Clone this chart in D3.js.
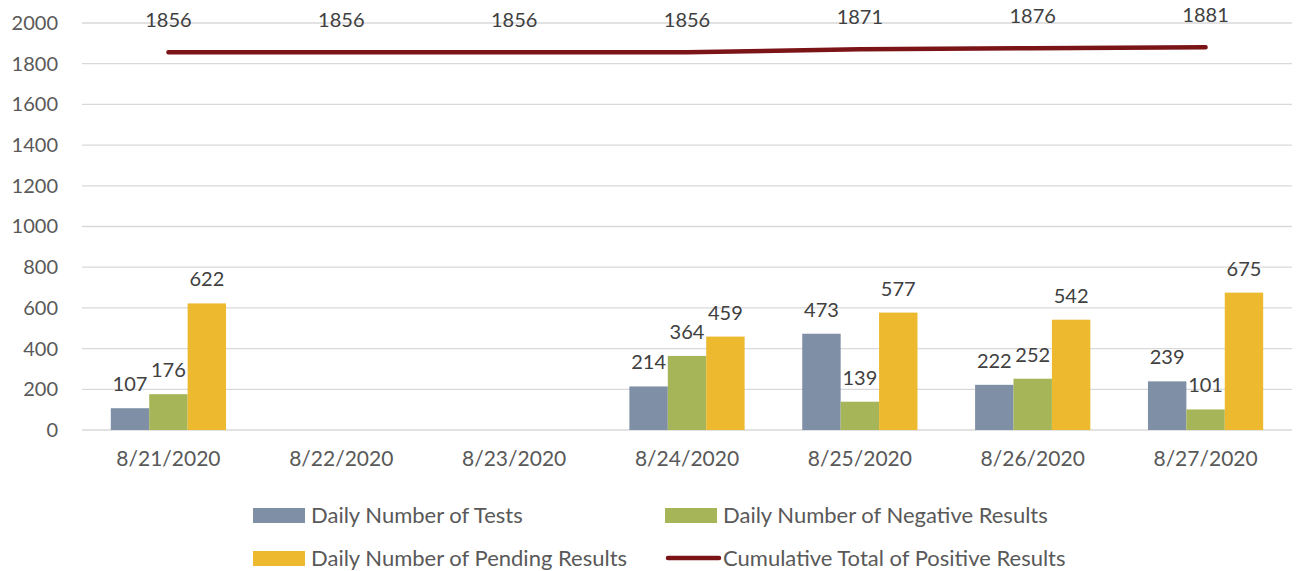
<!DOCTYPE html>
<html>
<head>
<meta charset="utf-8">
<script src="https://cdn.jsdelivr.net/npm/d3@7"></script>
<style>
  body { margin: 0; background: #fff; }
  text { font-family: Lato, "Open Sans", sans-serif; }
</style>
</head>
<body>
<div class="canvas"></div>
<script>
// data
const dates = ['8/21/2020', '8/22/2020', '8/23/2020', '8/24/2020', '8/25/2020', '8/26/2020', '8/27/2020'];
const tests = [107, null, null, 214, 473, 222, 239];
const negatives = [176, null, null, 364, 139, 252, 101];
const pending = [622, null, null, 459, 577, 542, 675];
const positives = [1856, 1856, 1856, 1856, 1871, 1876, 1881];
const yTicks = [0, 200, 400, 600, 800, 1000, 1200, 1400, 1600, 1800, 2000];

const barSeries = [
  { name: 'Daily Number of Tests', values: tests, colour: '#7f8fa6' },
  { name: 'Daily Number of Negative Results', values: negatives, colour: '#a5b557' },
  { name: 'Daily Number of Pending Results', values: pending, colour: '#edb92f' }
];
const lineName = 'Cumulative Total of Positive Results';
const lineColour = '#7b1416';

const dims = { width: 1296, height: 571 };
const plot = { left: 82, right: 1292, top: 23, bottom: 430 };

const svg = d3.select('.canvas')
  .append('svg')
  .attr('width', dims.width)
  .attr('height', dims.height);

const x = d3.scaleBand()
  .domain(dates)
  .range([plot.left, plot.right])
  .paddingInner(0)
  .paddingOuter(0);

// excel gap width 150% -> bar = band / 4.5
const barW = x.bandwidth() / 4.5;
const x1 = d3.scaleBand()
  .domain(barSeries.map(d => d.name))
  .range([0, barW * 3]);

const y = d3.scaleLinear()
  .domain([0, 2000])
  .range([plot.bottom, plot.top]);

// gridlines
svg.append('g')
  .selectAll('line')
  .data(yTicks)
  .enter().append('line')
  .attr('x1', plot.left)
  .attr('x2', plot.right)
  .attr('y1', d => y(d))
  .attr('y2', d => y(d))
  .attr('stroke', '#d9d9d9')
  .attr('stroke-width', 1.3);

// y axis labels
const yAxis = svg.append('g')
  .attr('transform', `translate(${plot.left}, 0)`)
  .call(d3.axisLeft(y).tickValues(yTicks).tickFormat(d3.format('d')).tickSize(0).tickPadding(24));
yAxis.select('.domain').remove();
yAxis.selectAll('text')
  .attr('font-size', 20)
  .attr('fill', '#595959')
  .style('font-family', 'Lato, sans-serif');

// x axis labels
const xAxis = svg.append('g')
  .attr('transform', `translate(0, ${plot.bottom})`)
  .call(d3.axisBottom(x).tickSize(0).tickPadding(21));
xAxis.select('.domain').remove();
xAxis.selectAll('text')
  .attr('font-size', 21)
  .attr('fill', '#595959')
  .style('font-family', 'Lato, sans-serif');

// bars
const groups = svg.append('g')
  .selectAll('g')
  .data(dates)
  .enter().append('g')
  .attr('transform', d => `translate(${x(d) + (x.bandwidth() - barW * 3) / 2}, 0)`);

const cells = groups.selectAll('g')
  .data((d, i) => barSeries.map(s => ({ name: s.name, colour: s.colour, value: s.values[i] })).filter(c => c.value != null))
  .enter().append('g');

cells.append('rect')
  .attr('x', d => x1(d.name))
  .attr('width', x1.bandwidth())
  .attr('y', d => y(d.value))
  .attr('height', d => y(0) - y(d.value))
  .attr('fill', d => d.colour);

cells.append('text')
  .attr('x', d => x1(d.name) + x1.bandwidth() / 2)
  .attr('y', d => y(d.value) - 17)
  .attr('text-anchor', 'middle')
  .attr('font-size', 20)
  .attr('fill', '#404040')
  .text(d => d.value);

// cumulative line
const line = d3.line()
  .x((d, i) => x(dates[i]) + x.bandwidth() / 2)
  .y(d => y(d));

svg.append('path')
  .datum(positives)
  .attr('d', line)
  .attr('fill', 'none')
  .attr('stroke', lineColour)
  .attr('stroke-width', 4.5)
  .attr('stroke-linecap', 'round')
  .attr('stroke-linejoin', 'round');

svg.append('g')
  .selectAll('text')
  .data(positives)
  .enter().append('text')
  .attr('x', (d, i) => x(dates[i]) + x.bandwidth() / 2)
  .attr('y', d => y(d) - 25)
  .attr('text-anchor', 'middle')
  .attr('font-size', 20)
  .attr('fill', '#404040')
  .text(d => d);

// legend
const legendItems = [
  { name: barSeries[0].name, colour: barSeries[0].colour, type: 'rect', col: 0, row: 0 },
  { name: barSeries[1].name, colour: barSeries[1].colour, type: 'rect', col: 1, row: 0 },
  { name: barSeries[2].name, colour: barSeries[2].colour, type: 'rect', col: 0, row: 1 },
  { name: lineName, colour: lineColour, type: 'line', col: 1, row: 1 }
];
const legend = svg.append('g');
const li = legend.selectAll('g')
  .data(legendItems)
  .enter().append('g')
  .attr('transform', d => `translate(${253 + d.col * 412}, ${515 + d.row * 43})`);

li.filter(d => d.type === 'rect').append('rect')
  .attr('x', 0).attr('y', -7)
  .attr('width', 52).attr('height', 15)
  .attr('fill', d => d.colour);

li.filter(d => d.type === 'line').append('line')
  .attr('x1', 3).attr('x2', 54)
  .attr('y1', 0).attr('y2', 0)
  .attr('stroke', d => d.colour)
  .attr('stroke-width', 4.5)
  .attr('stroke-linecap', 'round');

li.append('text')
  .attr('x', 58)
  .attr('y', 0)
  .attr('dy', '0.35em')
  .attr('font-size', 22)
  .attr('fill', '#595959')
  .text(d => d.name);
</script>
</body>
</html>
